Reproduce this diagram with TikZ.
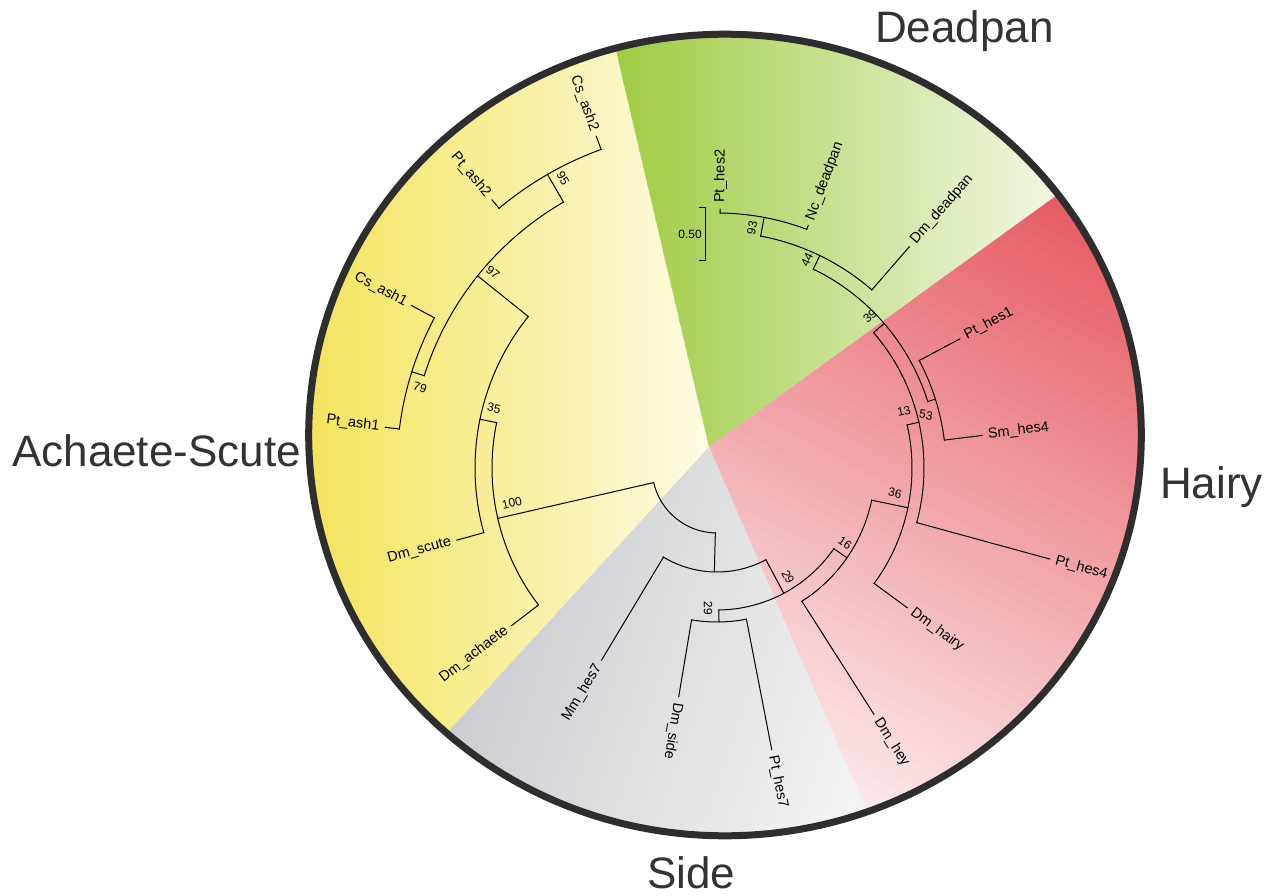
\documentclass[tikz,border=0pt]{standalone}
\usepackage{fontspec}
\setmainfont{Liberation Sans}
\definecolor{yelA}{HTML}{F2E45A}
\definecolor{yelB}{HTML}{FDFBE2}
\definecolor{grnA}{HTML}{9FCB42}
\definecolor{grnB}{HTML}{F9FBF3}
\definecolor{redA}{HTML}{E65B65}
\definecolor{redB}{HTML}{FDF2F3}
\definecolor{gryA}{HTML}{CDCED1}
\definecolor{gryB}{HTML}{F6F6F7}
\definecolor{grp}{HTML}{333333}
\definecolor{rim}{HTML}{2E2E2E}
\tikzset{
  treeline/.style={line width=1pt, black, line cap=rect},
  leaf/.style={font=\fontsize{14.5}{16}\selectfont, inner sep=1pt},
  boot/.style={font=\fontsize{12}{14}\selectfont, inner sep=0.5pt},
  group/.style={font=\fontsize{44}{50}\selectfont, text=grp, inner sep=0pt},
}
% linear colour band: start x, start y, angle, length, colour A, colour B
\newcommand\gradband[6]{%
  \begin{scope}[shift={(#1,#2)}, rotate=#3]
    \fill[#5] (-2500,-2500) rectangle (0.5,2500);
    \fill[#6] ({#4-0.5},-2500) rectangle (2500,2500);
    \foreach \gi in {0,...,59}{%
      \pgfmathsetmacro\gpct{100/60*(\gi+0.5)}%
      \pgfmathsetmacro\gxa{#4/60*\gi}%
      \pgfmathsetmacro\gxb{#4/60*(\gi+1)+0.7}%
      \fill[#6!\gpct!#5] (\gxa,-2500) rectangle (\gxb,2500);
    }
  \end{scope}}
% branch: name, angle, parent radius, radius
\newcommand\branch[4]{%
  \coordinate (#1-b) at (#2:#3);
  \coordinate (#1) at (#2:#4);
  \draw[treeline] (#1-b) -- (#1);}
% clade arc: first child, start angle, end angle, radius
\newcommand\cladearc[4]{%
  \draw[treeline] (#1-b) arc[start angle=#2, end angle=#3, radius=#4];}
\begin{document}
\begin{tikzpicture}[x=1pt, y=1pt]
\useasboundingbox (0,0) rectangle (1272,-896);
\fill[white] (0,0) rectangle (1272,-896);

% coloured sectors inside the ring
\begin{scope}
  \clip (725,-435) ellipse [x radius=416.3, y radius=400.8];
  \coordinate (apex) at (709,-447);
  \begin{scope}
    \clip (apex) -- ++(103.2:900) arc[start angle=103.2, end angle=227.5, radius=900] -- cycle;
    \gradband{305}{-450}{0}{400}{yelA}{yelB}
  \end{scope}
  \begin{scope}
    \clip (apex) -- ++(35.9:900) arc[start angle=35.9, end angle=103.2, radius=900] -- cycle;
    \gradband{615}{-300}{0}{480}{grnA}{grnB}
  \end{scope}
  \begin{scope}
    \clip (apex) -- ++(293.4:900) arc[start angle=293.4, end angle=395.9, radius=900] -- cycle;
    \gradband{1120}{-230}{242.28}{666.5}{redA}{redB}
  \end{scope}
  \begin{scope}
    \clip (apex) -- ++(227.5:900) arc[start angle=227.5, end angle=293.4, radius=900] -- cycle;
    \gradband{470}{-690}{-19.29}{423.8}{gryA}{gryB}
  \end{scope}
\end{scope}
\draw[line width=7pt, rim] (725,-435) ellipse [x radius=416.3, y radius=400.8];

% tree
\begin{scope}[shift={(717,-468)}]
  \branch{nX}{268.53}{65}{104}
  \branch{n100}{192.94}{65}{225}
  \cladearc{n100}{192.94}{268.53}{65}
  % Side / Hairy / Deadpan
  \branch{n29a}{298.06}{104}{142}
  \branch{mh7}{239}{104}{224}
  \cladearc{mh7}{239}{298.06}{104}
  \branch{n29b}{270.75}{142}{154}
  \branch{n16}{325.37}{142}{158}
  \cladearc{n29b}{270.75}{325.37}{142}
  \branch{dsd}{260.5}{154}{232}
  \branch{ph7}{281}{154}{287}
  \cladearc{dsd}{260.5}{281}{154}
  \branch{dhy}{302.5}{158}{292}
  \branch{n36}{348.235}{158}{195}
  \cladearc{dhy}{302.5}{348.235}{158}
  \branch{dha}{323.7}{195}{236}
  \branch{n13}{372.77}{195}{207}
  \cladearc{dha}{323.7}{372.77}{195}
  \branch{ph4}{344.7}{207}{345}
  \branch{n39}{400.84}{207}{221}
  \cladearc{ph4}{344.7}{400.84}{207}
  \branch{n53}{377.5}{221}{229}
  \branch{n44}{424.175}{221}{236}
  \cladearc{n53}{377.5}{424.175}{221}
  \branch{sh4}{367}{229}{267}
  \branch{ph1}{388}{229}{275}
  \cladearc{sh4}{367}{388}{229}
  \branch{ddp}{409}{236}{293}
  \branch{n93}{439.35}{236}{255}
  \cladearc{ddp}{409}{439.35}{236}
  \branch{ndp}{429.4}{255}{259}
  \branch{ph2}{449.3}{255}{259}
  \cladearc{ndp}{429.4}{449.3}{255}
  % Achaete-Scute
  \branch{n35}{168.375}{225}{242}
  \branch{dac}{217.5}{225}{259}
  \cladearc{n35}{168.375}{217.5}{225}
  \branch{n97}{141.25}{242}{307}
  \branch{dsc}{195.5}{242}{270}
  \cladearc{n97}{141.25}{195.5}{242}
  \branch{n95}{120}{307}{339}
  \branch{n79}{162.5}{307}{320}
  \cladearc{n95}{120}{162.5}{307}
  \branch{cas2}{110}{339}{353}
  \branch{pas2}{130}{339}{350}
  \cladearc{cas2}{110}{130}{339}
  \branch{cas1}{152}{320}{346}
  \branch{pas1}{173}{320}{334}
  \cladearc{cas1}{152}{173}{320}

  % leaf labels
  \node[leaf, anchor=east, rotate=-70]   (Lcas2) at (110:358)   {Cs\_ash2};
  \node[leaf, anchor=east, rotate=-50]   (Lpas2) at (130:355)   {Pt\_ash2};
  \node[leaf, anchor=east, rotate=-28]   (Lcas1) at (152:351)   {Cs\_ash1};
  \node[leaf, anchor=east, rotate=-7]    (Lpas1) at (173:339)   {Pt\_ash1};
  \node[leaf, anchor=east, rotate=15.5]  (Ldsc)  at (195.5:275) {Dm\_scute};
  \node[leaf, anchor=east, rotate=37.5]  (Ldac)  at (217.5:264) {Dm\_achaete};
  \node[leaf, anchor=east, rotate=59]    (Lmh7)  at (239:229)   {Mm\_hes7};
  \node[leaf, anchor=west, rotate=260.5] (Ldsd)  at (260.5:237) {Dm\_side};
  \node[leaf, anchor=west, rotate=281]   (Lph7)  at (281:292)   {Pt\_hes7};
  \node[leaf, anchor=west, rotate=302.5] (Ldhy)  at (302.5:297) {Dm\_hey};
  \node[leaf, anchor=west, rotate=323.7] (Ldha)  at (323.7:241) {Dm\_hairy};
  \node[leaf, anchor=west, rotate=344.7] (Lph4)  at (344.7:350) {Pt\_hes4};
  \node[leaf, anchor=west, rotate=7]     (Lsh4)  at (7:272)     {Sm\_hes4};
  \node[leaf, anchor=west, rotate=28]    (Lph1)  at (28:280)    {Pt\_hes1};
  \node[leaf, anchor=west, rotate=49]    (Lddp)  at (49:298)    {Dm\_deadpan};
  \node[leaf, anchor=west, rotate=69.4]  (Lndp)  at (69.4:264)  {Nc\_deadpan};
  \node[leaf, anchor=west, rotate=89.3]  (Lph2)  at (89.3:264)  {Pt\_hes2};
\end{scope}

% bootstrap values
\node[boot, rotate=-60]   (b95)  at (563,-178) {95};
\node[boot, rotate=-39]   (b97)  at (493,-272) {97};
\node[boot, rotate=-17.5] (b79)  at (420,-388) {79};
\node[boot, rotate=-12]   (b35)  at (494,-408) {35};
\node[boot, rotate=13]    (b100) at (512,-503) {100};
\node[boot, rotate=-89]   (b29b) at (708,-608) {29};
\node[boot, rotate=-62]   (b29a) at (788,-577) {29};
\node[boot, rotate=-35]   (b16)  at (845,-543) {16};
\node[boot, rotate=-12]   (b36)  at (895,-493) {36};
\node[boot, rotate=13]    (b13)  at (904,-411) {13};
\node[boot, rotate=-10]   (b53)  at (926,-415) {53};
\node[boot, rotate=41]    (b39)  at (870,-316) {39};
\node[boot, rotate=64]    (b44)  at (807,-260) {44};
\node[boot, rotate=79]    (b93)  at (752,-228) {93};

% scale bar
\coordinate (sb1) at (699,-208);
\coordinate (sb2) at (705,-208);
\coordinate (sb3) at (705,-261);
\coordinate (sb4) at (699,-261);
\draw[treeline, line cap=butt] (sb1) -- (sb2) -- (sb3) -- (sb4);
\node[boot] (sbl) at (690,-234) {0.50};

% group names
\node[group, anchor=base west] (gDead) at (875,-43)  {Deadpan};
\node[group, anchor=base west] (gAch)  at (12,-466)  {Achaete-Scute};
\node[group, anchor=base west] (gHai)  at (1160,-498) {Hairy};
\node[group, anchor=base west] (gSid)  at (647,-888) {Side};
\end{tikzpicture}
\end{document}
